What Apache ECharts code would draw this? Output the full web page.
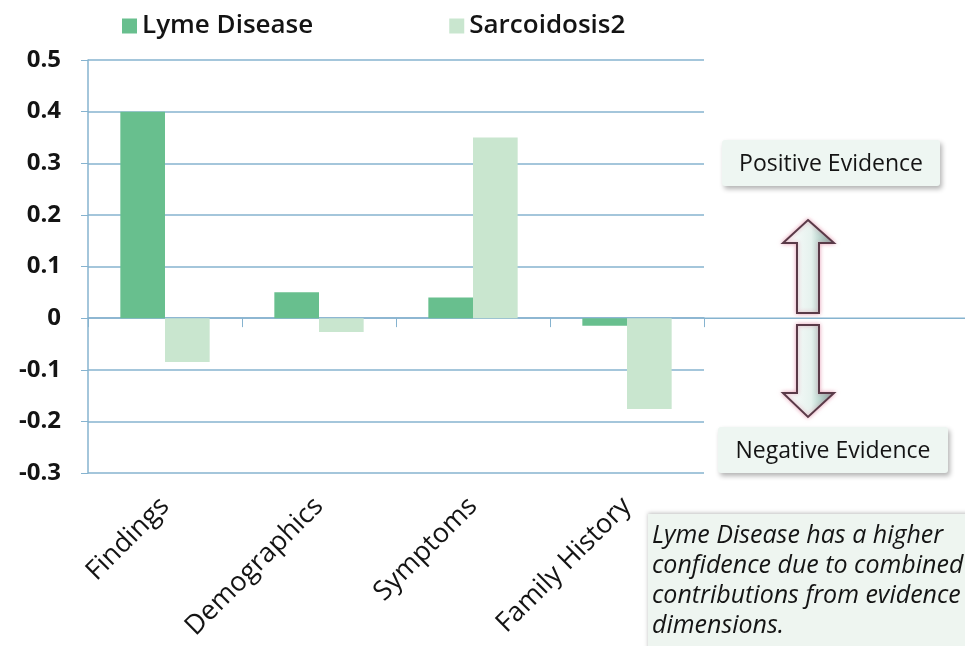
<!DOCTYPE html>
<html>
<head>
<meta charset="utf-8">
<script src="https://cdn.jsdelivr.net/npm/echarts@6/dist/echarts.min.js"></script>
<style>
  html, body { margin: 0; padding: 0; background: #fff; }
  #main { width: 965px; height: 646px; }
</style>
</head>
<body>
<div id="main"></div>
<script>
// data
var categories = ['Findings', 'Demographics', 'Symptoms', 'Family History'];
var lymeDisease = [0.40, 0.05, 0.04, -0.015];
var sarcoidosis2 = [-0.085, -0.027, 0.35, -0.176];
var seriesNames = ['Lyme Disease', 'Sarcoidosis2'];

var font = '"Open Sans", "Noto Sans", sans-serif';
var axisBlue = '#86b3cf';
var ink = '#141414';

var chart = echarts.init(document.getElementById('main'));

var arrowFill = new echarts.graphic.LinearGradient(0, 0, 1, 0, [
  { offset: 0, color: '#ffffff' },
  { offset: 0.55, color: '#e6f2ee' },
  { offset: 1, color: '#6fa79a' }
]);

chart.setOption({
  animation: false,
  textStyle: { fontFamily: font },
  legend: {
    data: seriesNames,
    top: 8,
    left: 117,
    itemGap: 136,
    itemWidth: 15,
    itemHeight: 15,
    icon: 'rect',
    textStyle: { fontSize: 26, color: ink, fontFamily: font, fontWeight: 600 }
  },
  grid: { left: 88, right: 261, top: 60, bottom: 173, outerBoundsMode: 'none' },
  xAxis: {
    type: 'category',
    data: categories,
    axisLine: { onZero: true, lineStyle: { color: axisBlue, width: 1.5 } },
    axisTick: { show: true, length: 9, inside: false, lineStyle: { color: axisBlue } },
    axisLabel: {
      interval: 0,
      rotate: 45,
      fontSize: 27,
      color: ink,
      fontFamily: font,
      margin: 29
    }
  },
  yAxis: {
    type: 'value',
    min: -0.3,
    max: 0.5,
    interval: 0.1,
    axisLine: { show: true, lineStyle: { color: axisBlue, width: 1.5 } },
    axisTick: { show: true, length: 7, lineStyle: { color: axisBlue } },
    splitLine: { lineStyle: { color: axisBlue, width: 1.5 } },
    axisLabel: {
      fontSize: 24,
      fontWeight: 'bold',
      color: ink,
      fontFamily: font,
      margin: 27,
      formatter: function (v) { return String(Math.round(v * 10) / 10); }
    }
  },
  series: [
    {
      name: seriesNames[0],
      type: 'bar',
      data: lymeDisease,
      barGap: '0%',
      barCategoryGap: '42%',
      itemStyle: { color: '#68bf8e' }
    },
    {
      name: seriesNames[1],
      type: 'bar',
      data: sarcoidosis2,
      itemStyle: { color: '#c9e6cf' }
    }
  ]
});

// zero line carries on to the right edge, under the arrows
var zero = chart.convertToPixel({ yAxisIndex: 0 }, 0);
var gridRight = chart.convertToPixel({ xAxisIndex: 0 }, categories.length - 1) + 77;

chart.setOption({
  graphic: [
    {
      type: 'line',
      shape: { x1: gridRight, y1: zero, x2: 965, y2: zero },
      style: { stroke: axisBlue, lineWidth: 1.5 },
      z: 1
    },
    {
      type: 'rect',
      shape: { x: 722, y: 140, width: 218, height: 46, r: 3 },
      style: { fill: '#eef6f2', shadowBlur: 5, shadowOffsetX: 2, shadowOffsetY: 3, shadowColor: 'rgba(0,0,0,0.3)' }
    },
    {
      type: 'text',
      x: 831, y: 164,
      style: { text: 'Positive Evidence', fontSize: 23, fill: ink, fontFamily: font, align: 'center', verticalAlign: 'middle' }
    },
    {
      type: 'rect',
      shape: { x: 718, y: 427, width: 230, height: 46, r: 3 },
      style: { fill: '#eef6f2', shadowBlur: 5, shadowOffsetX: 2, shadowOffsetY: 3, shadowColor: 'rgba(0,0,0,0.3)' }
    },
    {
      type: 'text',
      x: 833, y: 451,
      style: { text: 'Negative Evidence', fontSize: 23, fill: ink, fontFamily: font, align: 'center', verticalAlign: 'middle' }
    },
    {
      type: 'polygon',
      shape: { points: [[808, 220], [834, 243], [819, 243], [819, 313], [797, 313], [797, 243], [783, 243]] },
      style: { fill: arrowFill, stroke: '#5a3a48', lineWidth: 2, shadowBlur: 4, shadowColor: 'rgba(220,120,150,0.6)' },
      z: 5
    },
    {
      type: 'polygon',
      shape: { points: [[797, 325], [819, 325], [819, 393], [834, 393], [808, 417], [783, 393], [797, 393]] },
      style: { fill: arrowFill, stroke: '#5a3a48', lineWidth: 2, shadowBlur: 4, shadowColor: 'rgba(220,120,150,0.6)' },
      z: 5
    },
    {
      type: 'rect',
      shape: { x: 648, y: 514, width: 330, height: 140 },
      style: { fill: '#eef5f0', shadowBlur: 4, shadowOffsetX: 0, shadowOffsetY: -1, shadowColor: 'rgba(0,0,0,0.25)' }
    },
    {
      type: 'text',
      x: 652, y: 521,
      style: {
        text: 'Lyme Disease has a higher\nconfidence due to combined\ncontributions from evidence\ndimensions.',
        fontSize: 25,
        fontStyle: 'italic',
        lineHeight: 30,
        fill: ink,
        fontFamily: font
      }
    }
  ]
});
</script>
</body>
</html>
